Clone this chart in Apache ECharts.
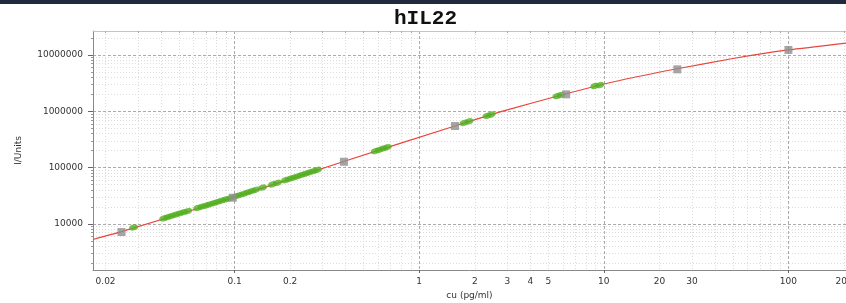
<!DOCTYPE html>
<html>
<head>
<meta charset="utf-8">
<title>hIL22</title>
<script src="https://cdn.jsdelivr.net/npm/echarts@6/dist/echarts.min.js"></script>
<style>
  html, body { margin: 0; padding: 0; background: #fff; }
  #main { width: 846px; height: 303px; }
</style>
</head>
<body>
<div id="main"></div>
<script>
// 拟合曲线上读出的点
var curveX = [0.0171, 0.0244, 0.1, 0.39, 1.56, 3, 6.25, 12.5, 25, 50, 100, 205];
var curveY = [5300, 7300, 30000, 128700, 549000, 1060000, 2050000, 3600000, 5700000, 8670000, 12300000, 16300000];

// 标准品 (灰色方块)
var stdX = [0.0244, 0.0977, 0.391, 1.5625, 6.25, 25, 100];
var stdY = [7180, 29200, 127000, 548000, 2000000, 5570000, 12300000];

// 样品 (绿色点)
var sampleX = [0.0284,
  0.0413, 0.0434, 0.0456, 0.048, 0.0504, 0.053, 0.0557,
  0.0631, 0.0664, 0.0697, 0.0733, 0.077, 0.081, 0.0851, 0.0894, 0.094,
  0.1012, 0.1064, 0.1119, 0.1176, 0.1236, 0.1299,
  0.1416, 0.1604, 0.1706, 0.1887, 0.1984,
  0.2085, 0.2192, 0.2304, 0.2422, 0.2544, 0.2675, 0.2811,
  0.578, 0.608, 0.639, 0.672,
  1.75, 1.86, 2.33, 2.45,
  5.57, 5.86, 8.94, 9.52];
var sampleY = [8660,
  12570, 13200, 13920, 14620, 15360, 16130, 16940,
  19230, 20200, 21210, 22270, 23490, 24670, 25910, 27210, 28580,
  30890, 32580, 34350, 36230, 38210, 40300,
  44260, 50450, 53850, 59900, 63170,
  66620, 70250, 74080, 78120, 82390, 86880, 91240,
  196800, 207600, 218900, 230800,
  624000, 665000, 834000, 875000,
  1870000, 1950000, 2820000, 2930000];

// 刻度
var xLabels = [0.02, 0.1, 0.2, 1, 2, 3, 4, 5, 10, 20, 30, 100, 200];
var xMajor = [0.1, 1, 10, 100];
var xMinor = [0.02, 0.03, 0.04, 0.05, 0.06, 0.07, 0.08, 0.09,
  0.2, 0.3, 0.4, 0.5, 0.6, 0.7, 0.8, 0.9,
  2, 3, 4, 5, 6, 7, 8, 9,
  20, 30, 40, 50, 60, 70, 80, 90, 200];
var yLabels = [10000, 100000, 1000000, 10000000];
var yMinor = [2000, 3000, 4000, 5000, 6000, 7000, 8000, 9000,
  20000, 30000, 40000, 50000, 60000, 70000, 80000, 90000,
  200000, 300000, 400000, 500000, 600000, 700000, 800000, 900000,
  2000000, 3000000, 4000000, 5000000, 6000000, 7000000, 8000000, 9000000,
  20000000];

var xMin = 0.0171, xMax = 205;
var yMin = 1520, yMax = 26700000;

function zip(a, b) {
  return a.map(function (v, i) { return [v, b[i]]; });
}

var labelFont = { fontFamily: 'DejaVu Sans', fontSize: 9, color: '#333' };

var chart = echarts.init(document.getElementById('main'));

var option = {
  animation: false,
  backgroundColor: '#fff',
  title: {
    text: 'hIL22',
    left: 389,
    top: 3,
    textStyle: { fontFamily: 'Liberation Mono', fontWeight: 'bold', fontSize: 21, color: '#111' }
  },
  graphic: [{
    type: 'rect',
    shape: { x: 0, y: 0, width: 846, height: 4 },
    style: { fill: '#1f2a3c' }
  }],
  grid: { left: 93, right: 0, top: 31, bottom: 33, outerBoundsMode: 'none', containLabel: false },
  xAxis: [{
    type: 'log',
    min: xMin, max: xMax,
    name: 'cu (pg/ml)',
    nameLocation: 'middle',
    nameGap: 20,
    nameTextStyle: labelFont,
    axisLine: { show: true, lineStyle: { color: '#888', width: 1 } },
    axisTick: { show: true, length: 3, customValues: xMajor, lineStyle: { color: '#666' } },
    axisLabel: { customValues: xLabels, margin: 7, fontFamily: 'DejaVu Sans', fontSize: 9, color: '#333',
      formatter: function (v) { return String(v); } },
    splitLine: { show: true, lineStyle: { color: '#ababab', type: [3, 2], width: 1 } }
  }, {
    type: 'log',
    min: xMin, max: xMax,
    position: 'top',
    axisLine: { show: true, lineStyle: { color: '#c4c4c4', width: 1 } },
    axisTick: { show: true, length: 2, inside: true, customValues: xMinor, lineStyle: { color: '#aaa' } },
    axisLabel: { show: false },
    splitLine: { show: true, lineStyle: { color: '#dcdcdc', type: [1, 2], width: 1 } }
  }],
  yAxis: [{
    type: 'log',
    min: yMin, max: yMax,
    name: 'I/Units',
    nameLocation: 'middle',
    nameGap: 70,
    nameTextStyle: labelFont,
    axisLine: { show: true, lineStyle: { color: '#888', width: 1 } },
    axisTick: { show: true, length: 5, customValues: yLabels, lineStyle: { color: '#666' } },
    axisLabel: { customValues: yLabels, margin: 10, fontFamily: 'DejaVu Sans', fontSize: 9, color: '#333',
      formatter: function (v) { return String(v); } },
    splitLine: { show: true, lineStyle: { color: '#ababab', type: [3, 2], width: 1 } }
  }, {
    type: 'log',
    min: yMin, max: yMax,
    position: 'left',
    axisLine: { show: false },
    axisTick: { show: true, length: 2, customValues: yMinor, lineStyle: { color: '#999' } },
    axisLabel: { show: false },
    splitLine: { show: true, lineStyle: { color: '#dcdcdc', type: [1, 2], width: 1 } }
  }],
  series: [{
    name: 'fit',
    type: 'line',
    data: zip(curveX, curveY),
    smooth: 0.2,
    showSymbol: false,
    lineStyle: { color: '#e8453c', width: 1.2 },
    z: 2
  }, {
    name: 'samples',
    type: 'scatter',
    data: zip(sampleX, sampleY),
    symbol: 'circle',
    symbolSize: [9, 6],
    symbolRotate: 17,
    itemStyle: { color: '#52b022' },
    z: 3
  }, {
    name: 'standards',
    type: 'scatter',
    data: zip(stdX, stdY),
    symbol: 'rect',
    symbolSize: 8,
    itemStyle: { color: '#8e8e8e' },
    z: 4
  }]
};

chart.setOption(option);
</script>
</body>
</html>
